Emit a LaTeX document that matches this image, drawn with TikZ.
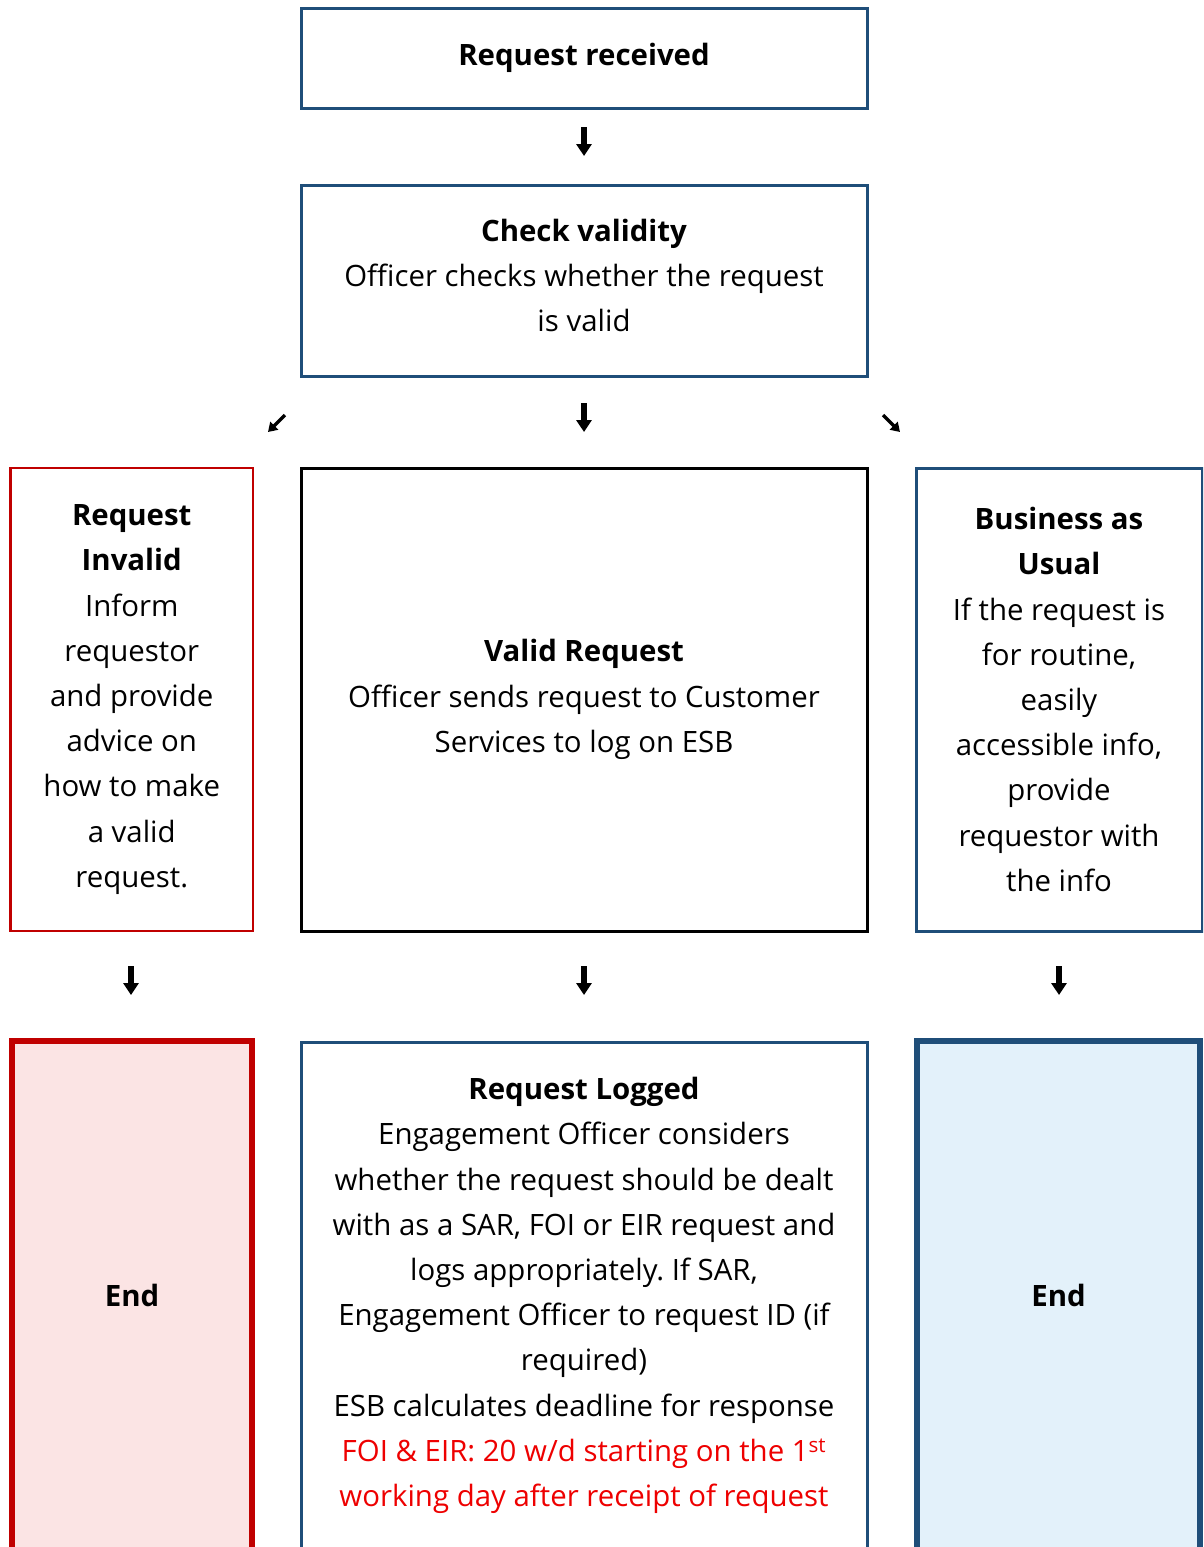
\documentclass[tikz,border=0pt]{standalone}
\usepackage{fontspec}
\setmainfont{Open Sans}
\usetikzlibrary{arrows.meta}
\definecolor{bblue}{HTML}{1F4E79}
\definecolor{dred}{HTML}{C00000}
\definecolor{pinkfill}{HTML}{FBE4E4}
\definecolor{bluefill}{HTML}{E3F1FA}
\definecolor{txtred}{HTML}{EE0000}
\newcommand\bodyfont{\frenchspacing\fontsize{29.4}{45.2}\selectfont}
\begin{document}
\begin{tikzpicture}[x=1pt,y=-1pt,
  box/.style={draw, rectangle, inner sep=0pt, align=center, font=\bodyfont},
  thinblue/.style={box, draw=bblue, line width=3pt},
  dnarrow/.style={line width=6pt, -{Triangle[width=15pt,length=12pt]}},
  diagarrow/.style={line width=3.5pt, -{Triangle[width=11pt,length=9pt]}}
]
\useasboundingbox (0,0) rectangle (1203,1547);
\clip (0,0) rectangle (1203,1547);
\fill[white] (0,0) rectangle (1203,1547);

\node[thinblue, minimum width=566pt, minimum height=100pt] (rr) at (584,58) {\textbf{Request received}};
\node[thinblue, minimum width=566pt, minimum height=191pt] (cv) at (584,280.5) {\textbf{Check validity}\\Officer checks whether the request\\is valid\rule[-10pt]{0pt}{1pt}};
\node[box, draw=dred, line width=2.5pt, minimum width=242.5pt, minimum height=463pt] (inv) at (131.75,699.5) {\textbf{Request}\\\textbf{Invalid}\\Inform\\requestor\\and provide\\advice on\\how to make\\a valid\\request.};
\node[box, draw=black, line width=3pt, minimum width=566pt, minimum height=463pt] (vr) at (584,699.5) {\textbf{Valid Request}\\Officer sends request to Customer\\Services to log on ESB};
\node[thinblue, minimum width=286pt, minimum height=463pt] (bau) at (1059,699.5) {\textbf{Business as}\\\textbf{Usual}\\If the request is\\for routine,\\easily\\accessible info,\\provide\\requestor with\\the info};
\node[box, draw=dred, fill=pinkfill, line width=6pt, minimum width=240pt, minimum height=509pt] (endL) at (132,1295.5) {\textbf{End}};
\node[thinblue, minimum width=566pt, minimum height=507pt] (rl) at (584,1295.5) {\textbf{Request Logged}\\Engagement Officer considers\\whether the request should be dealt\\with as a SAR, FOI or EIR request and\\logs appropriately. If SAR,\\Engagement Officer to request ID (if\\required)\\ESB calculates deadline for response\\\textcolor{txtred}{FOI \& EIR: 20 w/d starting on the 1\textsuperscript{st}}\\\textcolor{txtred}{working day after receipt of request}};
\node[box, draw=bblue, fill=bluefill, line width=6pt, minimum width=283pt, minimum height=509pt] (endR) at (1058.5,1295.5) {\textbf{End}};

% arrows
\coordinate (a1s) at (584,127); \coordinate (a1e) at (584,156);
\coordinate (a2s) at (584,403); \coordinate (a2e) at (584,432);
\coordinate (a3s) at (285,415); \coordinate (a3e) at (268,432);
\coordinate (a4s) at (883,415); \coordinate (a4e) at (900,432);
\coordinate (a5s) at (131,966); \coordinate (a5e) at (131,995);
\coordinate (a6s) at (584,966); \coordinate (a6e) at (584,995);
\coordinate (a7s) at (1059,966); \coordinate (a7e) at (1059,995);
\draw[dnarrow] (a1s) -- (a1e);
\draw[dnarrow] (a2s) -- (a2e);
\draw[diagarrow] (a3s) -- (a3e);
\draw[diagarrow] (a4s) -- (a4e);
\draw[dnarrow] (a5s) -- (a5e);
\draw[dnarrow] (a6s) -- (a6e);
\draw[dnarrow] (a7s) -- (a7e);
\end{tikzpicture}
\end{document}
